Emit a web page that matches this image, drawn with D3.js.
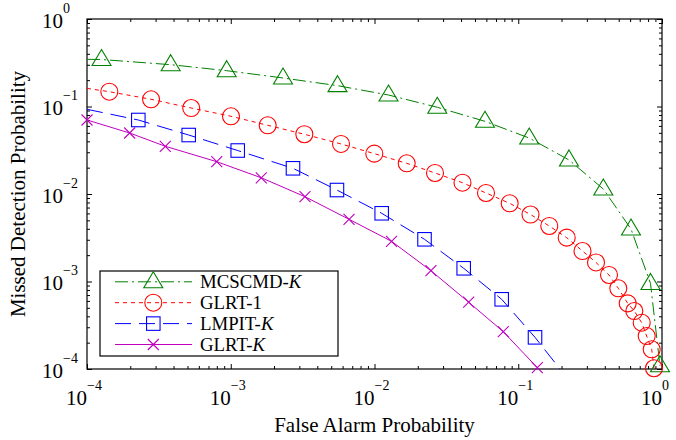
<!DOCTYPE html>
<html><head><meta charset="utf-8">
<script src="https://cdn.jsdelivr.net/npm/d3@7/dist/d3.min.js"></script>
<style>body{margin:0;background:#fff}svg{display:block}</style>
</head><body>
<svg id="chart" width="676" height="440"></svg>
<script>
// ---------- data ----------
const majorTicks = [1e-4, 1e-3, 1e-2, 1e-1, 1];
const tickExponents = ["\u22124", "\u22123", "\u22122", "\u22121", "0"];
const seriesNames = ["MCSCMD-", "GLRT-1", "LMPIT-", "GLRT-"];
const seriesItalic = ["K", "", "K", "K"];
const xTitle = "False Alarm Probability";
const yTitle = "Missed Detection Probability";

const mcscmdPfa = [1.262e-4, 3.82e-4, 9.37e-4, 2.31e-3, 5.53e-3, 0.01252, 0.02734, 0.0587, 0.1192, 0.2254, 0.3906, 0.6086, 0.8318, 0.968];
const mcscmdPmd = [0.3445, 0.3006, 0.2566, 0.2118, 0.173, 0.1353, 0.098, 0.0677, 0.0436, 0.0245, 0.0114, 0.00398, 0.00095, 0.000109];

const glrt1Pfa = [1.43e-4, 2.79e-4, 5.31e-4, 1.004e-3, 1.807e-3, 3.25e-3, 5.85e-3, 9.97e-3, 0.01675, 0.02636, 0.04094, 0.05966, 0.08719, 0.1217, 0.1644, 0.2173, 0.2799, 0.3475, 0.4279, 0.4966, 0.5772, 0.6418, 0.7226, 0.7826, 0.848, 0.8796];
const glrt1Pmd = [0.1476, 0.1209, 0.0961, 0.0773, 0.061, 0.0482, 0.0373, 0.0289, 0.02243, 0.01738, 0.01346, 0.01027, 7.83e-3, 5.83e-3, 4.31e-3, 3.17e-3, 2.23e-3, 1.65e-3, 1.187e-3, 8.36e-4, 5.63e-4, 4.6e-4, 3.38e-4, 2.38e-4, 1.68e-4, 1.02e-4];

const lmpitPfa = [2.275e-4, 5.1e-4, 1.118e-3, 2.71e-3, 5.48e-3, 0.01122, 0.02228, 0.04173, 0.0767, 0.1308];
const lmpitPmd = [0.0701, 0.0472, 0.0314, 0.01966, 0.0111, 6.02e-3, 3.035e-3, 1.415e-3, 6.26e-4, 2.30e-4];

const glrtKPfa = [1e-4, 1.98e-4, 3.505e-4, 7.99e-4, 1.631e-3, 3.285e-3, 6.65e-3, 0.01313, 0.0247, 0.0452, 0.0787, 0.1357];
const glrtKPmd = [0.0701, 0.0498, 0.0351, 0.0234, 0.01532, 9.31e-3, 5.14e-3, 2.88e-3, 1.328e-3, 5.8e-4, 2.67e-4, 1.035e-4];

// curve end points (where curves meet the axes)
const lineStartPfa = [1e-4, 1e-4, 1e-4, 1e-4];
const lineStartPmd = [0.346, 0.161, 0.0929, 0.0701];
const lineEndPfa = [0.968, 0.8796, 0.1952, 0.1357];
const lineEndPmd = [1.09e-4, 1.02e-4, 1e-4, 1.035e-4];

// ---------- styles ----------
const colors = ["#008000", "#ff0000", "#0000ff", "#bf00bf"];
const dashes = ["13,4,2,4", "4,4", "16,8", null];
const markers = ["triangle", "circle", "square", "cross"];
const font = "'Liberation Serif','Times New Roman',serif";

const svg = d3.select("#chart");
const L = 87, R = 662, T = 19, B = 369;
const x = d3.scaleLog().domain([1e-4, 1]).range([L, R]);
const y = d3.scaleLog().domain([1e-4, 1]).range([B, T]);

const minorTicks = [];
for (let k = -4; k < 0; k++) for (let m = 2; m <= 9; m++) minorTicks.push(m * Math.pow(10, k));

svg.append("defs").append("clipPath").attr("id", "clip")
  .append("rect").attr("x", L).attr("y", T).attr("width", R - L).attr("height", B - T);

// axes ticks (inward)
function addAxis(axisFn, scale, vals, size, transform) {
  const g = svg.append("g").attr("transform", transform)
    .call(axisFn(scale).tickValues(vals).tickSizeInner(-size).tickSizeOuter(0).tickFormat(""));
  g.select(".domain").remove();
  g.selectAll("line").attr("stroke", "#000").attr("stroke-width", 1);
}
addAxis(d3.axisBottom, x, majorTicks, 5, `translate(0,${B})`);
addAxis(d3.axisBottom, x, minorTicks, 3, `translate(0,${B})`);
addAxis(d3.axisTop, x, majorTicks, 5, `translate(0,${T})`);
addAxis(d3.axisTop, x, minorTicks, 3, `translate(0,${T})`);
addAxis(d3.axisLeft, y, majorTicks, 5, `translate(${L},0)`);
addAxis(d3.axisLeft, y, minorTicks, 3, `translate(${L},0)`);
addAxis(d3.axisRight, y, majorTicks, 5, `translate(${R},0)`);
addAxis(d3.axisRight, y, minorTicks, 3, `translate(${R},0)`);

svg.append("rect").attr("x", L).attr("y", T).attr("width", R - L).attr("height", B - T)
  .attr("fill", "none").attr("stroke", "#000").attr("stroke-width", 1.2);

// tick labels
majorTicks.forEach((v, i) => {
  const xv = x(v);
  svg.append("text").attr("x", xv).attr("y", 405).attr("text-anchor", "end")
    .attr("font-family", font).attr("font-size", 21).text("10");
  svg.append("text").attr("x", xv).attr("y", 390).attr("text-anchor", "start")
    .attr("font-family", font).attr("font-size", 14).text(tickExponents[i]);
  const yv = y(v);
  svg.append("text").attr("x", 63).attr("y", yv + 8.5).attr("text-anchor", "end")
    .attr("font-family", font).attr("font-size", 21).text("10");
  svg.append("text").attr("x", 63).attr("y", yv - 6.5).attr("text-anchor", "start")
    .attr("font-family", font).attr("font-size", 14).text(tickExponents[i]);
});

// axis titles
svg.append("text").attr("x", (L + R) / 2).attr("y", 431.5).attr("text-anchor", "middle")
  .attr("font-family", font).attr("font-size", 21).text(xTitle);
svg.append("text").attr("transform", `translate(25,${(T + B) / 2}) rotate(-90)`)
  .attr("text-anchor", "middle").attr("font-family", font).attr("font-size", 21).text(yTitle);

// marker drawing
function drawMarker(g, type, cx, cy, color) {
  let el;
  if (type === "triangle") {
    el = g.append("path").attr("d", `M${cx},${cy - 10}L${cx + 9.5},${cy + 6}L${cx - 9.5},${cy + 6}Z`);
  } else if (type === "circle") {
    el = g.append("circle").attr("cx", cx).attr("cy", cy).attr("r", 8.5);
  } else if (type === "square") {
    el = g.append("rect").attr("x", cx - 6.75).attr("y", cy - 6.75).attr("width", 13.5).attr("height", 13.5);
  } else {
    el = g.append("path").attr("d", `M${cx - 5.5},${cy - 5.5}L${cx + 5.5},${cy + 5.5}M${cx - 5.5},${cy + 5.5}L${cx + 5.5},${cy - 5.5}`);
  }
  el.attr("fill", "none").attr("stroke", color).attr("stroke-width", 1.1);
}

const seriesPfa = [mcscmdPfa, glrt1Pfa, lmpitPfa, glrtKPfa];
const seriesPmd = [mcscmdPmd, glrt1Pmd, lmpitPmd, glrtKPmd];
const line = d3.line().x(d => x(d[0])).y(d => y(d[1]));

seriesPfa.forEach((pfa, i) => {
  const pts = [[lineStartPfa[i], lineStartPmd[i]]]
    .concat(pfa.map((v, j) => [v, seriesPmd[i][j]]))
    .concat([[lineEndPfa[i], lineEndPmd[i]]]);
  svg.append("path").attr("clip-path", "url(#clip)").attr("d", line(pts))
    .attr("fill", "none").attr("stroke", colors[i]).attr("stroke-width", 1)
    .attr("stroke-dasharray", dashes[i]);
});
seriesPfa.forEach((pfa, i) => {
  const g = svg.append("g");
  pfa.forEach((v, j) => drawMarker(g, markers[i], x(v), y(seriesPmd[i][j]), colors[i]));
});

// legend
const lg = svg.append("g");
lg.append("rect").attr("x", 100).attr("y", 271).attr("width", 238).attr("height", 85)
  .attr("fill", "#fff").attr("stroke", "#000").attr("stroke-width", 1.2);
const rowY = [281.8, 302.7, 323.6, 344.5];
seriesNames.forEach((name, i) => {
  const ry = rowY[i];
  lg.append("line").attr("x1", 115).attr("x2", 192).attr("y1", ry).attr("y2", ry)
    .attr("stroke", colors[i]).attr("stroke-width", 1).attr("stroke-dasharray", dashes[i]);
  drawMarker(lg, markers[i], 153.3, ry, colors[i]);
  const t = lg.append("text").attr("x", 200).attr("y", ry + 6.3)
    .attr("font-family", font).attr("font-size", 18.8);
  t.append("tspan").text(name);
  if (seriesItalic[i]) t.append("tspan").attr("font-style", "italic").text(seriesItalic[i]);
});
</script>
</body></html>
